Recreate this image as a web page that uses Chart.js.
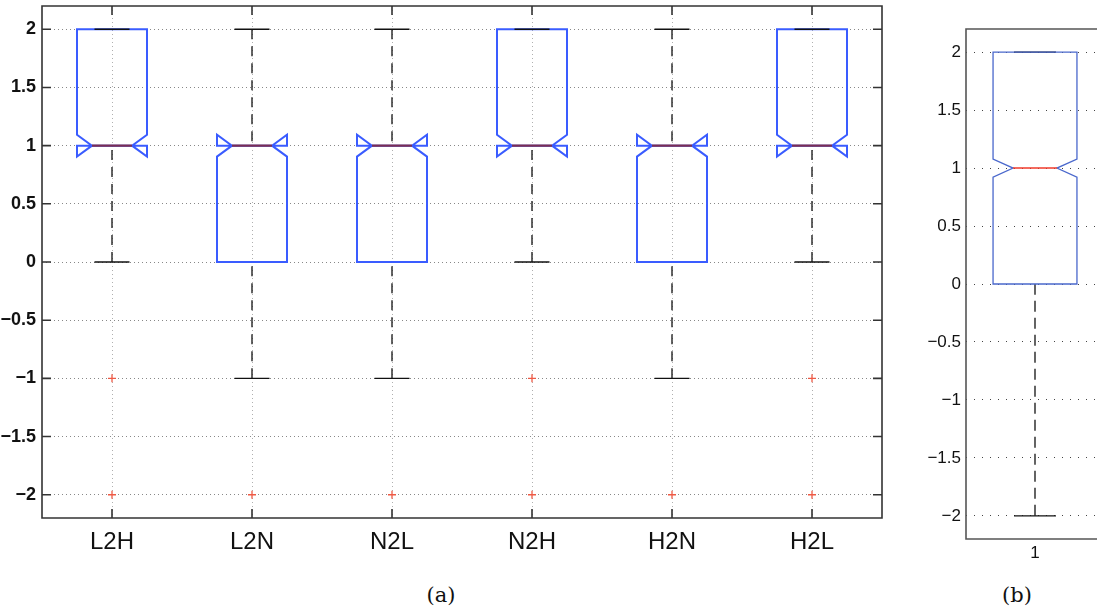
<!DOCTYPE html>
<html>
<head>
<meta charset="utf-8">
<script src="https://cdn.jsdelivr.net/npm/chart.js@4/dist/chart.umd.min.js"></script>
<style>
  html, body { margin: 0; padding: 0; background: #fff; overflow: hidden; }
  body { width: 1097px; height: 608px; position: relative; }
  .panel { position: absolute; }
  .caption { position: absolute; width: 100px; text-align: center;
             font-family: "DejaVu Serif", "Liberation Serif", serif; font-size: 21px;
             line-height: 22px; color: #111; }
</style>
</head>
<body>
<div class="panel" id="wrapA" style="left:0; top:0; width:892px; height:565px;"><canvas id="chartA"></canvas></div>
<div class="panel" id="wrapB" style="left:900px; top:0; width:197px; height:575px;"><canvas id="chartB"></canvas></div>
<div class="caption" style="left:391px; top:584px;">(a)</div>
<div class="caption" style="left:967px; top:584px;">(b)</div>

<script>
// ---- Panel (a): transition categories ----
const categoriesA = ['L2H', 'L2N', 'N2L', 'N2H', 'H2N', 'H2L'];
const q1A         = [1, 0, 0, 1, 0, 1];
const medianA     = [1, 1, 1, 1, 1, 1];
const q3A         = [2, 1, 1, 2, 1, 2];
const notchLowA   = [0.906, 0.906, 0.906, 0.906, 0.906, 0.906];
const notchHighA  = [1.094, 1.094, 1.094, 1.094, 1.094, 1.094];
const whiskerLowA = [0, -1, -1, 0, -1, 0];
const whiskerHighA= [2, 2, 2, 2, 2, 2];
const outliersA   = [[-1, -2], [-2], [-2], [-1, -2], [-2], [-1, -2]];

// ---- Panel (b): single group ----
const categoriesB = ['1'];
const q1B         = [0];
const medianB     = [1];
const q3B         = [2];
const notchLowB   = [0.922];
const notchHighB  = [1.078];
const whiskerLowB = [-2];
const whiskerHighB= [2];
const outliersB   = [[]];

// shared value axis ticks
const yTicks = [-2, -1.5, -1, -0.5, 0, 0.5, 1, 1.5, 2];

function fmt(v) {
  const s = String(Math.abs(v));
  return v < 0 ? '\u2212' + s : s;
}

function outlierPoints(groups) {
  const pts = [];
  groups.forEach((vals, i) => vals.forEach(v => pts.push({ x: i + 1, y: v })));
  return pts;
}

// Draws notched box-and-whisker glyphs through the chart's own scales
const notchedBoxes = {
  id: 'notchedBoxes',
  beforeDatasetsDraw(chart, args, o) {
    const { ctx, scales: { x, y } } = chart;
    const s = o.stats;
    const px = v => x.getPixelForValue(v);
    const py = v => y.getPixelForValue(v);
    const seg = (x1, y1, x2, y2) => { ctx.beginPath(); ctx.moveTo(x1, y1); ctx.lineTo(x2, y2); ctx.stroke(); };
    ctx.save();
    ctx.lineCap = 'butt';
    ctx.lineJoin = 'miter';
    for (let i = 0; i < s.q1.length; i++) {
      const c = i + 1;
      // whiskers (drawn from the whisker end toward the box)
      ctx.strokeStyle = o.whiskerColor;
      ctx.lineWidth = o.whiskerWidth;
      ctx.setLineDash(o.whiskerDash);
      if (s.whiskerLow[i] < s.q1[i]) seg(px(c), py(s.whiskerLow[i]), px(c), py(s.q1[i]));
      if (s.whiskerHigh[i] > s.q3[i]) seg(px(c), py(s.whiskerHigh[i]), px(c), py(s.q3[i]));
      ctx.setLineDash([]);
      const drawCaps = () => {
        ctx.strokeStyle = o.capColor;
        ctx.lineWidth = o.whiskerWidth;
        seg(px(c - o.capHalf), py(s.whiskerLow[i]), px(c + o.capHalf), py(s.whiskerLow[i]));
        seg(px(c - o.capHalf), py(s.whiskerHigh[i]), px(c + o.capHalf), py(s.whiskerHigh[i]));
      };
      if (!o.capsOnTop) drawCaps();
      // notched box outline
      const l = px(c - o.boxHalf), r = px(c + o.boxHalf);
      const li = px(c - o.boxHalf + o.notchInset), ri = px(c + o.boxHalf - o.notchInset);
      ctx.strokeStyle = o.boxColor;
      ctx.lineWidth = o.boxWidth;
      ctx.beginPath();
      ctx.moveTo(l, py(s.q1[i]));
      ctx.lineTo(l, py(s.notchLow[i]));
      ctx.lineTo(li, py(s.median[i]));
      ctx.lineTo(l, py(s.notchHigh[i]));
      ctx.lineTo(l, py(s.q3[i]));
      ctx.lineTo(r, py(s.q3[i]));
      ctx.lineTo(r, py(s.notchHigh[i]));
      ctx.lineTo(ri, py(s.median[i]));
      ctx.lineTo(r, py(s.notchLow[i]));
      ctx.lineTo(r, py(s.q1[i]));
      ctx.closePath();
      ctx.stroke();
      // median
      ctx.strokeStyle = o.medianColor;
      ctx.lineWidth = o.medianWidth;
      seg(li, py(s.median[i]), ri, py(s.median[i]));
      if (o.capsOnTop) drawCaps();
    }
    ctx.restore();
  },
  afterDraw(chart, args, o) {
    const { ctx, chartArea: a, scales: { x, y } } = chart;
    ctx.save();
    ctx.strokeStyle = o.frameColor;
    ctx.lineWidth = o.frameWidth;
    ctx.setLineDash([]);
    // axes frame; the right edge of the narrow panel runs off the page
    ctx.beginPath();
    if (o.frameRight) {
      ctx.rect(a.left, a.top, a.right - a.left, a.bottom - a.top);
    } else {
      ctx.moveTo(a.right + 2, a.top); ctx.lineTo(a.left, a.top);
      ctx.lineTo(a.left, a.bottom); ctx.lineTo(a.right + 2, a.bottom);
    }
    ctx.stroke();
    if (o.tickLen > 0) {
      ctx.beginPath();
      y.ticks.forEach(t => {
        const yy = y.getPixelForValue(t.value);
        ctx.moveTo(a.left, yy); ctx.lineTo(a.left + o.tickLen, yy);
        ctx.moveTo(a.right, yy); ctx.lineTo(a.right - o.tickLen, yy);
      });
      x.ticks.forEach(t => {
        const xx = x.getPixelForValue(t.value);
        ctx.moveTo(xx, a.top); ctx.lineTo(xx, a.top + o.tickLen);
        ctx.moveTo(xx, a.bottom); ctx.lineTo(xx, a.bottom - o.tickLen);
      });
      ctx.stroke();
    }
    ctx.restore();
  }
};

function makeChart(id, cfg) {
  return new Chart(document.getElementById(id), {
    type: 'scatter',
    data: {
      datasets: [{
        data: outlierPoints(cfg.outliers),
        pointStyle: 'cross',
        pointRadius: 4,
        pointHoverRadius: 4,
        borderColor: '#ee5a45',
        backgroundColor: '#ee5a45',
        pointBorderWidth: 1.3
      }]
    },
    options: {
      responsive: true,
      maintainAspectRatio: false,
      animation: false,
      events: [],
      layout: { padding: cfg.padding },
      plugins: {
        legend: { display: false },
        tooltip: { enabled: false },
        notchedBoxes: {
          stats: cfg.stats,
          boxHalf: cfg.boxHalf, notchInset: cfg.notchInset, capHalf: cfg.capHalf,
          boxColor: cfg.boxColor, boxWidth: cfg.boxWidth,
          medianColor: cfg.medianColor, medianWidth: cfg.medianWidth,
          whiskerColor: '#111', capColor: '#111', whiskerWidth: 1.3, whiskerDash: cfg.whiskerDash,
          capsOnTop: cfg.capsOnTop,
          frameColor: cfg.frameColor, frameWidth: 1.6, frameRight: cfg.frameRight, tickLen: cfg.tickLen
        }
      },
      scales: {
        x: {
          type: 'linear',
          min: 0.5, max: cfg.xMax,
          afterBuildTicks: s => { s.ticks = cfg.categories.map((_, i) => ({ value: i + 1 })); },
          afterFit: s => { s.height = cfg.xAxisHeight; s.paddingLeft = 0; s.paddingRight = 0; },
          ticks: {
            autoSkip: false, maxRotation: 0,
            callback: v => cfg.categories[v - 1],
            color: '#111', padding: cfg.xPad,
            font: cfg.xFont
          },
          grid: { display: cfg.xGrid, color: '#b0b0b0', lineWidth: 1, drawTicks: false },
          border: { display: false, dash: [1, 3] }
        },
        y: {
          type: 'linear',
          min: -2.2, max: 2.2,
          afterBuildTicks: s => { s.ticks = yTicks.map(v => ({ value: v })); },
          afterFit: s => { s.width = cfg.yAxisWidth; s.paddingTop = 0; s.paddingBottom = 0; },
          ticks: {
            callback: v => fmt(v),
            color: '#111', padding: cfg.yPad,
            font: cfg.yFont
          },
          grid: { color: cfg.yGridColor, lineWidth: 1, drawTicks: false },
          border: { display: false, dash: cfg.yGridDash }
        }
      }
    },
    plugins: [notchedBoxes]
  });
}

makeChart('chartA', {
  categories: categoriesA,
  outliers: outliersA,
  stats: { q1: q1A, median: medianA, q3: q3A, notchLow: notchLowA, notchHigh: notchHighA,
           whiskerLow: whiskerLowA, whiskerHigh: whiskerHighA },
  xMax: 6.5,
  padding: { top: 6, right: 10, left: 0, bottom: 0 },
  xAxisHeight: 47, yAxisWidth: 42,
  xPad: 10, yPad: 6,
  xFont: { family: '"Liberation Sans", Arial, sans-serif', size: 24 },
  yFont: { family: '"Liberation Sans", Arial, sans-serif', size: 18, weight: 'bold' },
  xGrid: true,
  yGridColor: '#888', yGridDash: [1, 3],
  boxHalf: 0.25, notchInset: 0.107, capHalf: 0.125,
  boxColor: '#3a5cff', boxWidth: 2,
  medianColor: '#7a2e55', medianWidth: 2.2,
  whiskerDash: [10, 7],
  capsOnTop: true,
  frameColor: '#333', frameRight: true, tickLen: 9
});

// the narrow panel's plot area is 138 px per unit and is cut by the page edge
makeChart('chartB', {
  categories: categoriesB,
  outliers: outliersB,
  stats: { q1: q1B, median: medianB, q3: q3B, notchLow: notchLowB, notchHigh: notchHighB,
           whiskerLow: whiskerLowB, whiskerHigh: whiskerHighB },
  xMax: 0.5 + 131 / 138,
  padding: { top: 29, right: 0, left: 0, bottom: 0 },
  xAxisHeight: 36, yAxisWidth: 66,
  xPad: 4, yPad: 5,
  xFont: { family: '"Liberation Sans", Arial, sans-serif', size: 17 },
  yFont: { family: '"Liberation Sans", Arial, sans-serif', size: 17 },
  xGrid: false,
  yGridColor: '#444', yGridDash: [1, 7],
  boxHalf: 0.304, notchInset: 0.145, capHalf: 0.152,
  boxColor: '#4a68cc', boxWidth: 1.3,
  medianColor: '#f03a2a', medianWidth: 1.5,
  whiskerDash: [11, 6],
  capsOnTop: false,
  frameColor: '#555', frameRight: false, tickLen: 0
});
</script>
</body>
</html>
